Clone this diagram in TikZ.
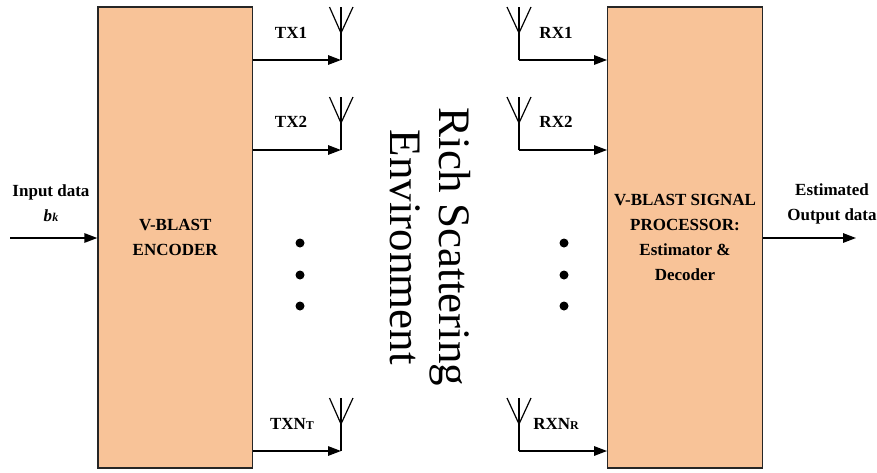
\documentclass[tikz,border=0pt]{standalone}
\usepackage{fontspec}
\setmainfont{Liberation Serif}
\usetikzlibrary{arrows.meta}
\definecolor{boxfill}{RGB}{248,195,152}
\newcommand{\lab}{\fontsize{17}{25}\selectfont\bfseries}
\newcommand{\subs}{\fontsize{12}{12}\selectfont}
\tikzset{
  x=1pt,y=-1pt,
  blockbox/.style={draw=black!85,line width=1.4pt,fill=boxfill,minimum width=154.5pt,minimum height=461pt,inner sep=0pt,align=center,font=\lab},
  sig/.style={line width=1.4pt,-{Triangle[length=13pt,width=9.5pt]}},
  ant/.style={line width=1.2pt},
  lbl/.style={font=\lab,align=center,inner sep=0pt},
  rotlabel/.style={rotate=-90,font=\fontsize{45}{45}\selectfont,inner sep=0pt},
  dotmark/.style={circle,fill=black,minimum size=9pt,inner sep=0pt}
}
\begin{document}
\begin{tikzpicture}
\useasboundingbox (0,0) rectangle (877,472);
\node[blockbox] (enc) at (175.25,237.5) {V-BLAST\\ENCODER};
\node[blockbox] (dec) at (685,237.5) {V-BLAST SIGNAL\\PROCESSOR:\\Estimator \&\\Decoder};
\coordinate (in) at (10,238);
\coordinate (out) at (856,238);
\coordinate (enctarget) at (enc.west |- in);
\coordinate (decsource) at (dec.east |- out);
\draw[sig] (in) -- (enctarget);
\draw[sig] (decsource) -- (out);
\node[lbl] (inlab) at (51,203) {Input data\\\textit{b\subs k}};
\node[lbl] (outlab) at (832,203.5) {Estimated\\Output data};
\foreach \n/\y in {a/60,b/150,c/451}{
  \coordinate (t\n) at (341,\y);
  \coordinate (ts\n) at (enc.east |- t\n);
  \draw[sig] (ts\n) -- (t\n);
  \coordinate (tj\n) at (341,\y-27);
  \coordinate (tc\n) at (341,\y-53);
  \coordinate (tl\n) at (329.5,\y-53);
  \coordinate (tr\n) at (353,\y-53);
  \draw[ant] (t\n) -- (tc\n);
  \draw[ant] (tl\n) -- (tj\n) -- (tr\n);
}
\node[lbl] (t1) at (291,33) {TX1};
\node[lbl] (t2) at (291,122) {TX2};
\node[lbl] (t3) at (292,424) {TXN{\subs T}};
\foreach \n/\y in {a/60,b/150,c/451}{
  \coordinate (r\n) at (519,\y);
  \coordinate (rs\n) at (dec.west |- r\n);
  \draw[sig] (r\n) -- (rs\n);
  \coordinate (rj\n) at (519,\y-27);
  \coordinate (rc\n) at (519,\y-53);
  \coordinate (rl\n) at (507,\y-53);
  \coordinate (rr\n) at (531,\y-53);
  \draw[ant] (r\n) -- (rc\n);
  \draw[ant] (rl\n) -- (rj\n) -- (rr\n);
}
\node[lbl] (r1) at (556,33) {RX1};
\node[lbl] (r2) at (556,122) {RX2};
\node[lbl] (r3) at (556,424) {RXN{\subs R}};
\foreach \i/\y in {1/243,2/275,3/306}{
  \node[dotmark] (dl\i) at (300,\y) {};
  \node[dotmark] (dr\i) at (564,\y) {};
}
\node[rotlabel] (rich) at (450,247) {Rich Scattering};
\node[rotlabel] (envi) at (405,247) {Environment};
\end{tikzpicture}
\end{document}
